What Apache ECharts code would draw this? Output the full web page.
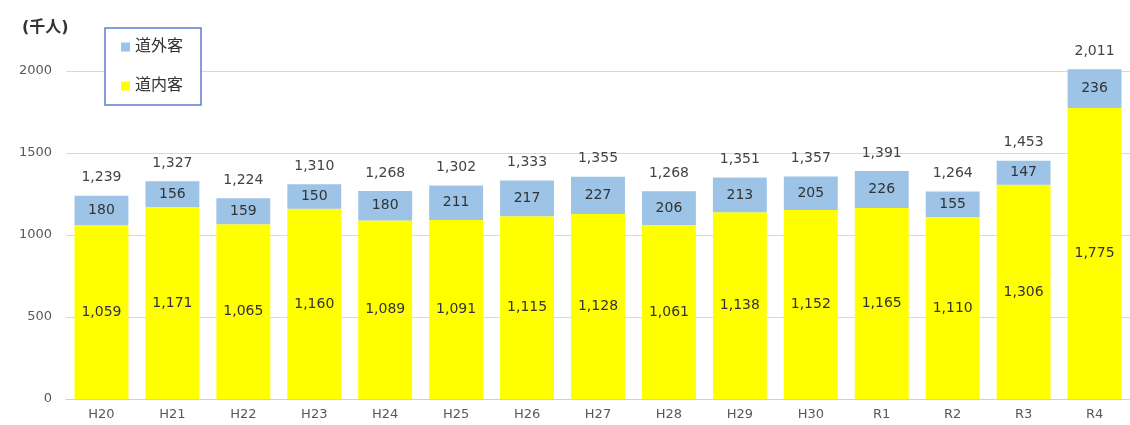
<!DOCTYPE html>
<html>
<head>
<meta charset="utf-8">
<script src="https://cdn.jsdelivr.net/npm/echarts@6/dist/echarts.min.js"></script>
<style>
	html, body { margin: 0; padding: 0; background: #fff; }
	#main { width: 1130px; height: 425px; }
</style>
</head>
<body>
<div id="main"></div>
<script>
var years = ['H20', 'H21', 'H22', 'H23', 'H24', 'H25', 'H26', 'H27', 'H28', 'H29', 'H30', 'R1', 'R2', 'R3', 'R4'];
var inside = [1059, 1171, 1065, 1160, 1089, 1091, 1115, 1128, 1061, 1138, 1152, 1165, 1110, 1306, 1775];
var outside = [180, 156, 159, 150, 180, 211, 217, 227, 206, 213, 205, 226, 155, 147, 236];
// totals as printed in the source (rounded separately, not always inside + outside)
var totals = [1239, 1327, 1224, 1310, 1268, 1302, 1333, 1355, 1268, 1351, 1357, 1391, 1264, 1453, 2011];
var yTicks = [0, 500, 1000, 1500, 2000];

var fmt = function (v) { return Number(v).toLocaleString('en-US'); };
var font = '"DejaVu Sans", "Noto Sans CJK JP", sans-serif';

var chart = echarts.init(document.getElementById('main'));

chart.setOption({
	animation: false,
	textStyle: { fontFamily: font },
	title: {
		text: '(千人)',
		left: 17,
		top: 15,
		textStyle: { fontSize: 16, fontWeight: 'bold', color: '#333', fontFamily: font }
	},
	legend: {
		orient: 'vertical',
		left: 105,
		top: 28,
		data: ['道外客', '道内客'],
		borderColor: '#5b7fd0',
		borderWidth: 1.5,
		padding: [11, 18, 11, 16],
		itemGap: 23,
		itemWidth: 9,
		itemHeight: 9,
		icon: 'rect',
		textStyle: { fontSize: 16, color: '#333', fontFamily: font },
		backgroundColor: '#fff',
		z: 10
	},
	grid: {
		left: 66,
		right: -2,
		top: 71,
		bottom: 26
	},
	xAxis: {
		type: 'category',
		data: years,
		axisLine: { lineStyle: { color: '#d0d0d0' } },
		axisTick: { show: false },
		axisLabel: { color: '#595959', fontSize: 13, margin: 9 }
	},
	yAxis: {
		type: 'value',
		min: yTicks[0],
		max: yTicks[yTicks.length - 1],
		interval: 500,
		axisLine: { show: false },
		axisTick: { show: false },
		axisLabel: {
			color: '#595959',
			fontSize: 13,
			margin: 14,
			formatter: function (v) { return String(v); }
		},
		splitLine: { lineStyle: { color: '#d9d9d9' } }
	},
	series: [{
		name: '道内客',
		type: 'bar',
		stack: 'all',
		clip: false,
		barWidth: '76%',
		itemStyle: { color: '#ffff00' },
		label: {
			show: true,
			position: 'inside',
			color: '#333',
			fontSize: 14,
			formatter: function (p) { return fmt(p.value); }
		},
		data: inside
	}, {
		name: '道外客',
		type: 'bar',
		stack: 'all',
		clip: false,
		itemStyle: { color: '#9dc3e6' },
		label: {
			show: true,
			position: 'inside',
			color: '#333',
			fontSize: 14,
			formatter: function (p) { return fmt(p.value); }
		},
		data: outside
	}, {
		name: 'total',
		type: 'bar',
		stack: 'all',
		clip: false,
		itemStyle: { color: 'transparent' },
		label: {
			show: true,
			position: 'top',
			distance: 11,
			color: '#444',
			fontSize: 14,
			formatter: function (p) { return fmt(totals[p.dataIndex]); }
		},
		data: totals.map(function () { return 0; })
	}]
});
</script>
</body>
</html>
